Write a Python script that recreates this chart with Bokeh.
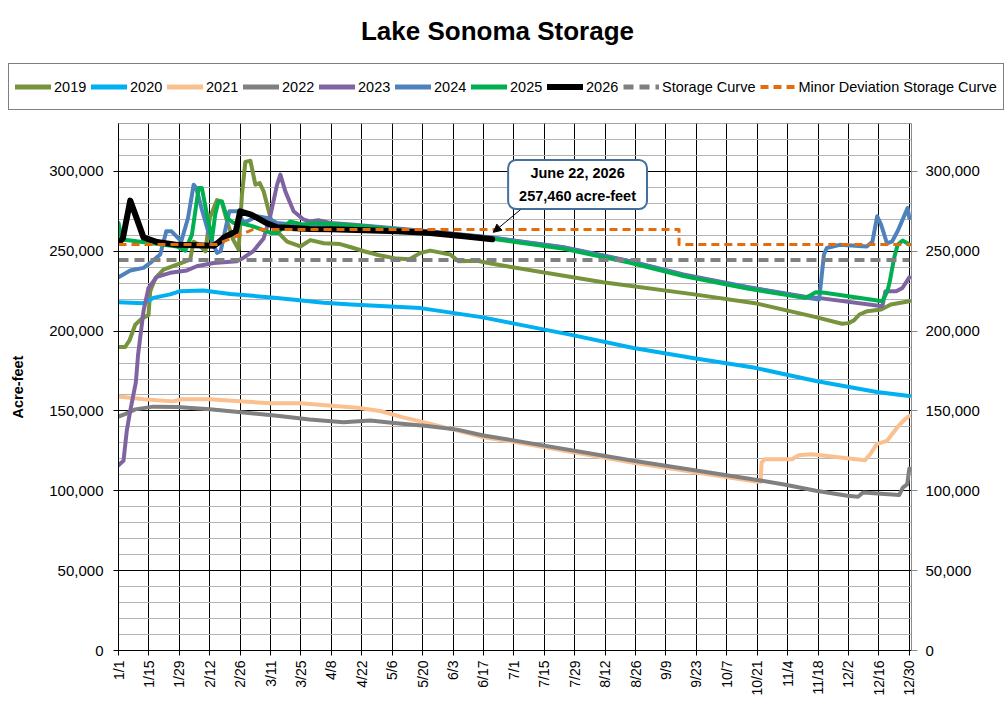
import math
from bokeh.plotting import figure
from bokeh.models import (Range1d, LinearAxis, FixedTicker, NumeralTickFormatter,
                          Legend, LegendItem, Label, Arrow, NormalHead)
from bokeh.embed import file_html
from bokeh.resources import INLINE

FONT = "Liberation Sans"

# ---------------- data (day of year, acre-feet) ----------------
tick_labels = ["1/1", "1/15", "1/29", "2/12", "2/26", "3/11", "3/25", "4/8", "4/22", "5/6",
               "5/20", "6/3", "6/17", "7/1", "7/15", "7/29", "8/12", "8/26", "9/9", "9/23",
               "10/7", "10/21", "11/4", "11/18", "12/2", "12/16", "12/30"]
tick_days = list(range(0, 365, 14))
y_major = [0, 50000, 100000, 150000, 200000, 250000, 300000]
y_minor = [10000, 20000, 30000, 40000, 60000, 70000, 80000, 90000, 110000, 120000, 130000,
           140000, 160000, 170000, 180000, 190000, 210000, 220000, 230000, 240000, 260000,
           270000, 280000, 290000, 310000, 320000]

d2019 = [0, 3, 5, 7.7, 10.8, 13.8, 14.6, 16.9, 20.7, 26.9, 33, 34.6, 37, 40, 42, 45.3, 47.5, 50,
         52.5, 55.3, 56.8, 58.4, 60.7, 63, 65, 66.8, 70, 73, 77.6, 83.7, 88.3, 94.5, 102, 107, 113,
         120, 128, 134, 139, 143.5, 152.7, 156.5, 165, 174, 223, 265, 293, 321, 333, 336, 338.5,
         341, 344.7, 351, 355.5, 364]
v2019 = [190000, 190000, 194000, 204000, 208000, 210000, 225000, 233000, 238500, 241700,
         244800, 256000, 254000, 250000, 270800, 282000, 281000, 268700, 258000, 251000,
         285000, 306000, 306700, 291700, 292700, 287500, 270800, 262500, 256000, 253000,
         257000, 255000, 254500, 252500, 250000, 247500, 245400, 245000, 249000, 250400,
         248000, 243750, 244000, 241700, 230600, 223000, 217500, 208750, 204600, 205000,
         206700, 210400, 212500, 213500, 216700, 218750]

d2020 = [0, 11.5, 16, 23.8, 28.4, 39, 51.5, 73, 94.5, 107, 139, 167, 181, 209, 237, 265, 293,
         321, 349, 364]
v2020 = [218000, 217500, 220800, 223000, 225000, 225400, 223300, 220800, 217700, 216700,
         214400, 208750, 205000, 197500, 189400, 183000, 177000, 168750, 161900, 159400]

d2021 = [0, 11.5, 25.3, 29, 42, 54, 70, 83.7, 109.8, 120.5, 131, 140.5, 152.8, 168, 180.4, 237,
         294, 295.5, 296, 297.6, 310, 313, 319, 343.6, 346, 349, 353.6, 359, 362, 364]
v2021 = [159000, 157300, 156000, 157300, 157300, 156250, 154800, 154800, 152000, 150000,
         146000, 143000, 138750, 133500, 131000, 117500, 105600, 105600, 117700, 119800,
         119800, 122300, 122900, 119200, 122900, 129200, 131250, 140600, 144800, 146900]

d2022 = [0, 3, 7.7, 16, 26.9, 42, 57.6, 73, 88, 103.6, 115.9, 126.7, 142, 155.9, 168, 180.4,
         237, 294, 307, 321, 335.5, 340.4, 342.7, 359.3, 361, 363, 364]
v2022 = [146500, 148000, 151000, 152700, 152500, 151000, 149000, 147000, 144600, 143000,
         144000, 142500, 140600, 138300, 134600, 131900, 118800, 106800, 103750, 100000,
         96900, 96250, 98900, 97300, 102000, 104000, 114000]

d2023 = [0, 2.3, 3.8, 5.4, 8, 9, 11.5, 13.8, 17.7, 23.8, 31.5, 36, 43.8, 54.5, 57.6, 62, 66.8,
         70, 73, 74.5, 76.8, 80.6, 85, 88, 92, 97.5, 107, 140, 172, 205, 235, 260, 290, 316,
         322, 351.6, 353, 358, 360.8, 364]
v2023 = [116000, 118750, 137500, 150000, 168000, 185000, 212500, 227000, 234000, 236500,
         238000, 240600, 242700, 243750, 246000, 250000, 258000, 273000, 291700, 298000,
         287500, 275000, 270000, 268700, 269500, 267700, 266700, 262800, 258600, 252500,
         244000, 235500, 227500, 221500, 220800, 215600, 225000, 225000, 227000, 233700]

d2024 = [0, 5.4, 11.5, 14.6, 19.2, 22, 24.4, 27.6, 29, 32, 34.6, 35.8, 38.4, 41.5, 45.3, 47,
         51, 55, 57.6, 63.7, 68.4, 73, 80, 107, 140, 172, 205, 235, 263, 290, 316, 322.5,
         324.7, 326, 332, 344.4, 347, 349.2, 351, 353.7, 356, 358.6, 363.2, 364]
v2024 = [233700, 237900, 239600, 242700, 248000, 262500, 262500, 258000, 256700, 270800,
         291700, 289600, 276000, 261500, 249000, 250000, 275000, 275000, 267700, 271900,
         270800, 267700, 266700, 266500, 262600, 258400, 252300, 243800, 234000, 227300,
         221000, 219800, 248000, 252000, 254000, 253000, 256000, 271900, 266700, 255000,
         256000, 262500, 277000, 270800]

d2025 = [0, 1.5, 5.4, 14.6, 26.9, 30.7, 33.8, 36.9, 38.4, 40.7, 43, 44.5, 46, 47.6, 50, 53,
         56, 62, 70, 73, 79, 85, 91, 107, 140, 172, 205, 235, 260, 290, 315.7, 318, 321, 325,
         351.6, 353.9, 355, 357, 358.6, 360.9, 364]
v2025 = [267700, 257300, 256700, 255200, 253000, 250400, 260400, 289600, 289600, 272900,
         257300, 272900, 281200, 281200, 270800, 267700, 267700, 265600, 261500, 261500,
         268700, 266700, 267700, 266300, 262000, 257800, 251500, 243000, 234500, 226500,
         220800, 222000, 224400, 224000, 218750, 225000, 231000, 245800, 254000, 256700,
         254200]

d2026 = [0, 2, 5.4, 8, 11.5, 17.7, 27, 44, 45.5, 49, 54, 56, 61, 68, 73, 88, 98, 128, 143.5,
         159, 172]
v2026 = [255200, 258000, 281700, 272000, 258700, 255800, 254000, 253500, 255000, 259000,
         262500, 275000, 273000, 267700, 265000, 264000, 263800, 262500, 261500, 259400,
         257460]

d_storage = [0, 364]
v_storage = [244500, 244500]

d_minor = [0, 45, 62, 258, 258, 365]
v_minor = [254200, 254200, 263700, 263700, 254200, 254200]

chart_title = "Lake Sonoma Storage"
callout_date = "June 22, 2026"
callout_value = "257,460 acre-feet"

series = [
    ("2019", d2019, v2019, "#77933C", 4, "solid"),
    ("2020", d2020, v2020, "#00B0F0", 4, "solid"),
    ("2021", d2021, v2021, "#FAC090", 4, "solid"),
    ("2022", d2022, v2022, "#808080", 4, "solid"),
    ("2023", d2023, v2023, "#8064A2", 4, "solid"),
    ("2024", d2024, v2024, "#4F81BD", 4, "solid"),
    ("2025", d2025, v2025, "#00B050", 4, "solid"),
    ("2026", d2026, v2026, "#000000", 6, "solid"),
    ("Storage Curve", d_storage, v_storage, "#808080", 4, "10 6"),
    ("Minor Deviation Storage Curve", d_minor, v_minor, "#E46C0A", 3, "8 5"),
]

W = 1005
H = 705
TOP_H = 120

# ---------------- header figure (title + legend) ----------------
top = figure(width=W, height=TOP_H, x_range=Range1d(0, W), y_range=Range1d(0, TOP_H),
             output_backend="svg", toolbar_location=None, x_axis_type=None, y_axis_type=None,
             min_border=0)
top.outline_line_color = None
top.xgrid.visible = False
top.ygrid.visible = False
top.background_fill_color = "white"
top.border_fill_color = "white"

top.add_layout(Label(x=497, y=TOP_H - 30, text=chart_title, text_align="center",
                     text_baseline="middle", text_font=FONT, text_font_size="26px",
                     text_font_style="bold", text_color="black"))

items = []
for name, xs, ys, col, lw, dash in series:
    cap = "round" if dash == "solid" else "butt"
    # legend swatch renderer: its points sit outside the visible header range
    r = top.line([-50, -40], [-50, -50], line_color=col, line_width=lw + 1 if lw < 6 else lw,
                 line_dash=dash, line_cap=cap)
    items.append(LegendItem(label=name, renderers=[r]))

legend = Legend(items=items, orientation="horizontal", location=(8, TOP_H - 110),
                label_text_font=FONT, label_text_font_size="14.5px", label_text_color="black",
                glyph_width=36, glyph_height=33, label_standoff=3, label_width=33,
                spacing=4, padding=6, margin=0,
                border_line_color="black", border_line_width=1.5,
                background_fill_color="white", background_fill_alpha=1.0)
top.add_layout(legend)

# ---------------- main chart ----------------
p = figure(width=W, height=H - TOP_H, x_range=Range1d(0, 365), y_range=Range1d(0, 330000),
           output_backend="svg", toolbar_location=None,
           min_border_left=118, min_border_right=94, min_border_top=3, min_border_bottom=55)
p.outline_line_color = "#A6A6A6"
p.outline_line_width = 1
p.background_fill_color = "white"
p.border_fill_color = "white"

xa = p.xaxis[0]
xa.ticker = FixedTicker(ticks=tick_days)
xa.major_label_overrides = {d: lab for d, lab in zip(tick_days, tick_labels)}
xa.major_label_orientation = math.pi / 2
xa.major_label_text_font = FONT
xa.major_label_text_font_size = "14px"
xa.major_label_text_color = "black"
xa.major_label_standoff = 5
xa.major_tick_out = 5
xa.major_tick_in = 0
xa.minor_tick_line_color = None
xa.axis_line_color = "black"
xa.major_tick_line_color = "black"

ya = p.yaxis[0]
ya.ticker = FixedTicker(ticks=y_major)
ya.formatter = NumeralTickFormatter(format="0,0")
ya.major_label_text_font = FONT
ya.major_label_text_font_size = "15px"
ya.major_label_text_color = "black"
ya.major_label_standoff = 10
ya.major_tick_out = 5
ya.major_tick_in = 0
ya.minor_tick_line_color = None
ya.axis_line_color = "black"
ya.major_tick_line_color = "black"
ya.axis_label = "Acre-feet"
ya.axis_label_text_font = FONT
ya.axis_label_text_font_size = "14.5px"
ya.axis_label_text_font_style = "bold"
ya.axis_label_text_color = "black"
ya.axis_label_standoff = 20

ra = LinearAxis(ticker=FixedTicker(ticks=y_major), formatter=NumeralTickFormatter(format="0,0"))
ra.major_label_text_font = FONT
ra.major_label_text_font_size = "15px"
ra.major_label_text_color = "black"
ra.major_label_standoff = 8
ra.major_tick_out = 6
ra.major_tick_in = 0
ra.minor_tick_line_color = None
ra.axis_line_color = "#8C8C8C"
ra.major_tick_line_color = "#8C8C8C"
p.add_layout(ra, "right")

p.xgrid.ticker = FixedTicker(ticks=tick_days)
p.xgrid.grid_line_color = "black"
p.xgrid.grid_line_width = 1
p.ygrid.ticker = FixedTicker(ticks=y_major, minor_ticks=y_minor)
p.ygrid.grid_line_color = "black"
p.ygrid.grid_line_width = 1
p.ygrid.minor_grid_line_color = "#B3B3B3"
p.ygrid.minor_grid_line_width = 1

for name, xs, ys, col, lw, dash in series:
    cap = "round" if dash == "solid" else "butt"
    p.line(xs, ys, line_color=col, line_width=lw, line_dash=dash, line_cap=cap,
           line_join="round")

callout = Label(x=211.3, y=291800, text=callout_date + "\n" + callout_value,
                text_align="center", text_baseline="middle", text_font=FONT,
                text_font_size="14.5px", text_font_style="bold", text_color="black",
                text_line_height=1.45,
                background_fill_color="white", border_line_color="#41719C",
                border_line_width=2, border_radius=8, padding=(11, 5))
p.add_layout(callout)

arrow = Arrow(end=NormalHead(size=8, fill_color="black", line_color="black", line_width=1),
              x_start=185, y_start=276000, x_end=d2026[-1] + 0.5, y_end=v2026[-1] + 4400,
              line_color="black", line_width=1)
p.add_layout(arrow)

open("out.html", "w").write(file_html([top, p], INLINE))
